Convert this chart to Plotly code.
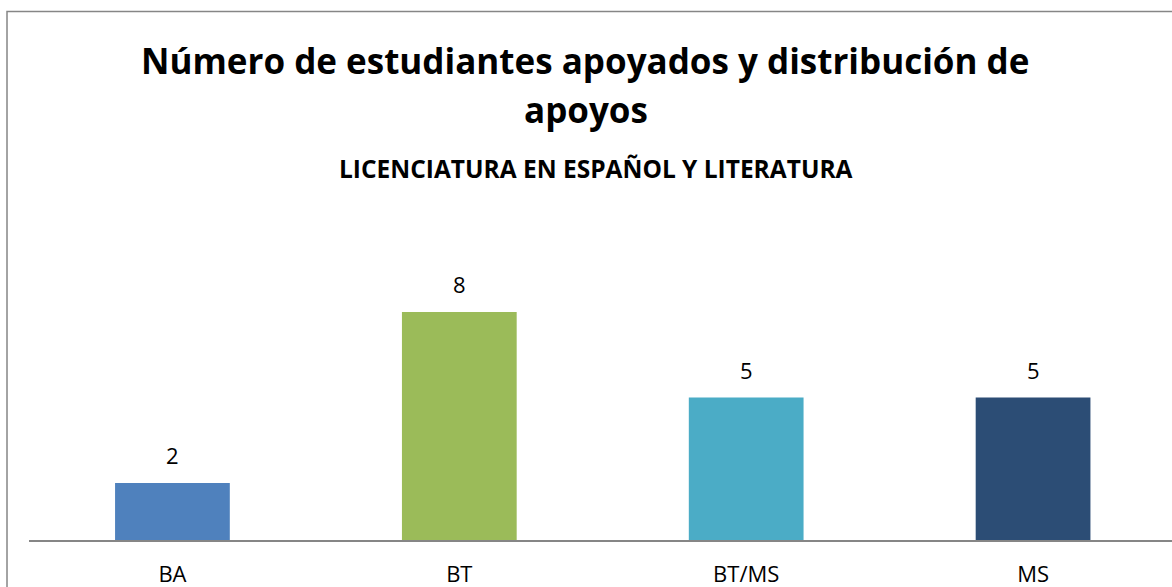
import plotly.graph_objects as go

categories = ["BA", "BT", "BT/MS", "MS"]
values = [2, 8, 5, 5]
colors = ["#4F81BD", "#9BBB59", "#4BACC6", "#2C4D75"]
title_line1 = "Número de estudiantes apoyados y distribución de"
title_line2 = "apoyos"
subtitle = "LICENCIATURA EN ESPAÑOL Y LITERATURA"

W, H = 1172, 587
L, T, B = 28.5, 255, 47
plot_h = H - T - B
plot_w = W - L

def py(ypx):
    return (H - B - ypx) / plot_h

def px(xpx):
    return (xpx - L) / plot_w

FONT = "Open Sans"

fig = go.Figure()
fig.add_trace(go.Bar(
    x=categories, y=values, marker=dict(color=colors, line=dict(width=0)),
    width=0.4, hoverinfo="skip"))

annotations = []
for c, v in zip(categories, values):
    annotations.append(dict(x=c, y=v, xref="x", yref="y", text=str(v), showarrow=False,
                            yanchor="bottom", yshift=11,
                            font=dict(family=FONT, size=22, color="#000000")))
annotations += [
    dict(x=px(585), y=py(60.5), xref="paper", yref="paper", text=title_line1, showarrow=False,
         xanchor="center", yanchor="middle", font=dict(family=FONT, size=35, color="#000000", weight="bold")),
    dict(x=px(586), y=py(109), xref="paper", yref="paper", text=title_line2, showarrow=False,
         xanchor="center", yanchor="middle", font=dict(family=FONT, size=35, color="#000000", weight="bold")),
    dict(x=px(596), y=py(168), xref="paper", yref="paper", text=subtitle, showarrow=False,
         xanchor="center", yanchor="middle", font=dict(family=FONT, size=24.5, color="#000000", weight="bold")),
]

shapes = [
    dict(type="rect", xref="paper", yref="paper", x0=px(6.5), x1=px(1180), y0=py(600), y1=py(11.5),
         line=dict(color="#868686", width=1.5), layer="below"),
]

fig.update_layout(
    width=W, height=H,
    margin=dict(l=L, r=0, t=T, b=B, pad=0, autoexpand=False),
    paper_bgcolor="white", plot_bgcolor="white",
    showlegend=False,
    bargap=0.6,
    annotations=annotations,
    shapes=shapes,
    xaxis=dict(range=[-0.5, -0.5 + plot_w / 287], showgrid=False, zeroline=False,
               showline=True, linecolor="#868686", linewidth=1.5, automargin=False,
               ticks="", ticklabelstandoff=14,
               tickfont=dict(family=FONT, size=22, color="#000000"), fixedrange=True),
    yaxis=dict(range=[0, 10], visible=False, showgrid=False, zeroline=False,
               automargin=False, fixedrange=True),
)

fig.write_html("out.html", config={"displayModeBar": False},
               post_script="document.body.style.margin='0';document.body.style.overflow='hidden';")
